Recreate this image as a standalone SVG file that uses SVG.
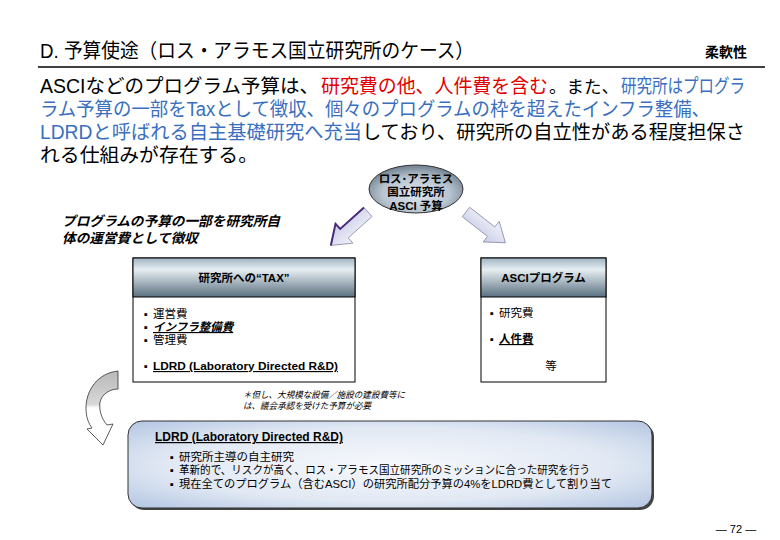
<svg xmlns="http://www.w3.org/2000/svg" width="780" height="540" viewBox="0 0 780 540">
<defs>
<style>
.jp{font-family:"Noto Sans CJK JP","Liberation Sans",sans-serif;}
.ls{font-family:"Liberation Sans","Noto Sans CJK JP",sans-serif;}
.t{font-size:19.5px;fill:#000;}
.red{fill:#e00000;}
.blue{fill:#3a6fc0;}
.hd{font-size:11.5px;font-weight:bold;text-anchor:middle;}
.item{font-size:11.5px;}
.bl{font-size:11px;}
.b{font-weight:bold;text-decoration:underline;}
.lat{font-family:"Liberation Sans",sans-serif;font-weight:bold;text-decoration:underline;}
.box{fill:#fff;stroke:#000;stroke-width:1;}
</style>
<linearGradient id="hdg" x1="0" y1="0" x2="0" y2="1">
<stop offset="0" stop-color="#9fb3c2"/>
<stop offset="0.3" stop-color="#e6eef2"/>
<stop offset="1" stop-color="#5a7080"/>
</linearGradient>
<radialGradient id="elg" cx="0.5" cy="0.6" r="0.6">
<stop offset="0" stop-color="#dfe6ee"/>
<stop offset="0.6" stop-color="#b8c4d0"/>
<stop offset="1" stop-color="#6e7e8c"/>
</radialGradient>
<linearGradient id="arg" x1="0" y1="0" x2="0" y2="1">
<stop offset="0" stop-color="#f2f3fa"/>
<stop offset="1" stop-color="#c9cde6"/>
</linearGradient>
<radialGradient id="ldg" cx="0.5" cy="0.5" r="0.7">
<stop offset="0" stop-color="#f6f8fc"/>
<stop offset="0.6" stop-color="#e2e9f4"/>
<stop offset="1" stop-color="#b4c6e2"/>
</radialGradient>
<linearGradient id="cvg" x1="0" y1="0" x2="0" y2="1">
<stop offset="0" stop-color="#b8b8b8"/>
<stop offset="0.45" stop-color="#d8d8d8"/>
<stop offset="0.5" stop-color="#ffffff"/>
<stop offset="1" stop-color="#ffffff"/>
</linearGradient>
<polygon id="blk" points="0,-6 32,-6 32,-13 50,0 32,13 32,6 0,6"/>
</defs>

<g id="header" class="ls">
<text x="40" y="58" font-size="20" textLength="434" lengthAdjust="spacingAndGlyphs">D. 予算使途（ロス・アラモス国立研究所のケース）</text>
<text x="747" y="57" font-size="14" font-weight="bold" text-anchor="end">柔軟性</text>
<line x1="38" y1="67" x2="765" y2="67" stroke="#000" stroke-width="1.5"/>
</g>

<g id="intro" class="ls t">
<text x="40" y="93" textLength="279" lengthAdjust="spacingAndGlyphs">ASCIなどのプログラム予算は、</text>
<text x="321" y="93" textLength="227" lengthAdjust="spacingAndGlyphs" class="red">研究費の他、人件費を含む</text>
<text x="549" y="93" font-size="17.5">。また、</text>
<text x="621" y="93" textLength="124" lengthAdjust="spacingAndGlyphs" class="blue">研究所はプログラ</text>
<text x="40" y="116" textLength="670" lengthAdjust="spacingAndGlyphs" class="blue">ラム予算の一部をTaxとして徴収、個々のプログラムの枠を超えたインフラ整備、</text>
<text x="40" y="139" textLength="705" lengthAdjust="spacingAndGlyphs"><tspan class="blue">LDRDと呼ばれる自主基礎研究へ充当</tspan>しており、研究所の自立性がある程度担保さ</text>
<text x="40" y="162" textLength="218" lengthAdjust="spacingAndGlyphs">れる仕組みが存在する。</text>
</g>

<g id="budget" class="ls">
<ellipse cx="416" cy="189" rx="47" ry="24" fill="url(#elg)" stroke="#333" stroke-width="1"/>
<text x="416" y="182.5" class="hd">ロス･アラモス</text>
<text x="416" y="196" class="hd">国立研究所</text>
<text x="416" y="209.5" class="hd">ASCI 予算</text>
</g>

<g id="connectors">
<g transform="translate(368,212) rotate(138)">
<use href="#blk" fill="url(#arg)" stroke="#8a8aa8" stroke-width="0.8"/>
<polyline points="0,6 32,6 32,13 50,0" fill="none" stroke="#4a2a78" stroke-width="2"/>
</g>
<g transform="translate(466,212) rotate(38)">
<use href="#blk" fill="url(#arg)" stroke="#8a8aa8" stroke-width="0.8"/>
</g>
<path d="M118,371 C98,373 86,390 86,408 C86,418 89,424 92,428 L87,429 L103,445 L113,424 L107,425 C101,418 99,410 100,402 C102,394 110,389 118,389 Z" fill="url(#cvg)" stroke="#333" stroke-width="0.8"/>
</g>

<g id="note-tax" class="ls">
<text x="62" y="226" font-size="13.5" font-weight="bold" font-style="italic" textLength="218" lengthAdjust="spacingAndGlyphs">プログラムの予算の一部を研究所自</text>
<text x="62" y="243" font-size="13.5" font-weight="bold" font-style="italic" textLength="136" lengthAdjust="spacingAndGlyphs">体の運営費として徴収</text>
</g>

<g id="tax-box" class="ls">
<rect x="133" y="258" width="222" height="124" class="box"/>
<rect x="133" y="258" width="222" height="39" fill="url(#hdg)" stroke="#000" stroke-width="1"/>
<text x="244" y="282" class="hd">研究所への“TAX”</text>
<text x="144" y="318" class="bl">▪</text><text x="153" y="318" class="item">運営費</text>
<text x="144" y="331" class="bl">▪</text><text x="153" y="331" class="item b" font-style="italic">インフラ整備費</text>
<text x="144" y="344" class="bl">▪</text><text x="153" y="344" class="item">管理費</text>
<text x="144" y="370" class="bl">▪</text><text x="153" y="370" class="item lat" textLength="185" lengthAdjust="spacingAndGlyphs">LDRD (Laboratory Directed R&amp;D)</text>
</g>

<g id="asci-box" class="ls">
<rect x="481" y="258" width="125" height="124" class="box"/>
<rect x="481" y="258" width="125" height="39" fill="url(#hdg)" stroke="#000" stroke-width="1"/>
<text x="543.5" y="282" class="hd">ASCIプログラム</text>
<text x="490" y="317" class="bl">▪</text><text x="499" y="317" class="item">研究費</text>
<text x="490" y="343" class="bl">▪</text><text x="499" y="343" class="item b">人件費</text>
<text x="551" y="370" class="item" text-anchor="middle">等</text>
</g>

<g id="note-parliament" class="ls" font-size="9" font-style="italic">
<text x="243" y="398" textLength="162" lengthAdjust="spacingAndGlyphs">＊但し、大規模な設備／施設の建設費等に</text>
<text x="243" y="409" textLength="128" lengthAdjust="spacingAndGlyphs">は、議会承認を受けた予算が必要</text>
</g>

<g id="ldrd-box" class="ls">
<rect x="130" y="423" width="524" height="87" rx="14" fill="#444"/>
<rect x="128" y="421" width="524" height="87" rx="14" fill="url(#ldg)" stroke="#333" stroke-width="1"/>
<text x="155" y="441" font-size="12" class="lat" textLength="188" lengthAdjust="spacingAndGlyphs">LDRD (Laboratory Directed R&amp;D)</text>
<text x="170" y="461" class="bl">▪</text><text x="179" y="461" class="item">研究所主導の自主研究</text>
<text x="170" y="474" class="bl">▪</text><text x="179" y="474" class="item" textLength="411" lengthAdjust="spacingAndGlyphs">革新的で、リスクが高く、ロス・アラモス国立研究所のミッションに合った研究を行う</text>
<text x="170" y="488" class="bl">▪</text><text x="179" y="488" class="item" textLength="433" lengthAdjust="spacingAndGlyphs">現在全てのプログラム（含むASCI）の研究所配分予算の4%をLDRD費として割り当て</text>
</g>

<g id="page" class="ls">
<text x="736" y="533" font-size="11" text-anchor="middle">— 72 —</text>
</g>
</svg>
